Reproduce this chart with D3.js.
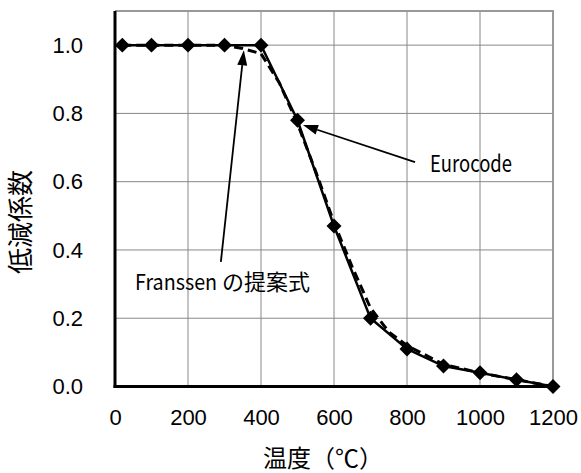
<!DOCTYPE html>
<html>
<head>
<meta charset="utf-8">
<script src="https://cdn.jsdelivr.net/npm/d3@7"></script>
<style>
  body { margin: 0; background: #fff; }
  svg { display: block; }
</style>
</head>
<body>
<div id="chart"></div>
<script>
// temperature (°C) and reduction factors
var euroTemp = [20, 100, 200, 300, 400, 500, 600, 700, 800, 900, 1000, 1100, 1200];
var euroVal  = [1.0, 1.0, 1.0, 1.0, 1.0, 0.78, 0.47, 0.20, 0.11, 0.06, 0.04, 0.02, 0.0];

var franTemp = [20, 100, 200, 300, 350, 400, 450, 500, 550, 600, 650, 700, 750, 800, 900, 1000, 1100, 1200];
var franVal  = [1.0, 1.0, 1.0, 1.0, 0.99, 0.975, 0.89, 0.77, 0.63, 0.48, 0.35, 0.23, 0.16, 0.12, 0.065, 0.04, 0.02, 0.0];

var xTicks = [0, 200, 400, 600, 800, 1000, 1200];
var yTicks = [0, 0.2, 0.4, 0.6, 0.8, 1.0];

var width = 581, height = 473;

var x = d3.scaleLinear().domain([0, 1200]).range([115, 553]);
var y = d3.scaleLinear().domain([0, 1.1]).range([386.5, 11]);

var svg = d3.select("#chart").append("svg")
  .attr("width", width)
  .attr("height", height);

// grid
svg.append("g")
  .selectAll("line")
  .data(xTicks.filter(d => d > 0 && d < 1200))
  .enter().append("line")
  .attr("x1", d => x(d)).attr("x2", d => x(d))
  .attr("y1", y(1.1)).attr("y2", y(0))
  .attr("stroke", "#888").attr("stroke-width", 1);

svg.append("g")
  .selectAll("line")
  .data(yTicks.filter(d => d > 0))
  .enter().append("line")
  .attr("x1", x(0)).attr("x2", x(1200))
  .attr("y1", d => y(d)).attr("y2", d => y(d))
  .attr("stroke", "#888").attr("stroke-width", 1);

// top & right border (grey)
svg.append("path")
  .attr("d", `M${x(0)},${y(1.1)}H${x(1200)}V${y(0)}`)
  .attr("fill", "none")
  .attr("stroke", "#999")
  .attr("stroke-width", 2);

// axes
var xAxis = g => g
  .attr("transform", `translate(0,${y(0)})`)
  .call(d3.axisBottom(x).tickValues(xTicks).tickFormat(d3.format("d")).tickSize(0).tickPadding(23))
  .call(g => g.select(".domain").attr("stroke", "#000").attr("stroke-width", 3)
    .attr("d", `M${x(0) - 1.5},0H${x(1200)}`))
  .call(g => g.selectAll("text")
    .attr("font-family", "'Liberation Sans', Arial, sans-serif")
    .attr("font-size", 22)
    .attr("fill", "#000"));

var yAxis = g => g
  .attr("transform", `translate(${x(0)},0)`)
  .call(d3.axisLeft(y).tickValues(yTicks).tickFormat(d3.format(".1f")).tickSize(0).tickPadding(32))
  .call(g => g.select(".domain").attr("stroke", "#000").attr("stroke-width", 3)
    .attr("d", `M0,${y(1.1)}V${y(0) + 1.5}`))
  .call(g => g.selectAll("text")
    .attr("font-family", "'Liberation Sans', Arial, sans-serif")
    .attr("font-size", 22)
    .attr("fill", "#000"));

svg.append("g").call(xAxis);
svg.append("g").call(yAxis);

// axis titles
svg.append("text")
  .attr("x", 323)
  .attr("y", 467)
  .attr("text-anchor", "middle")
  .attr("font-family", "'Noto Sans CJK JP', sans-serif")
  .attr("font-size", 24)
  .text("温度（℃）");

svg.append("text")
  .attr("transform", "translate(30,222) rotate(-90)")
  .attr("text-anchor", "middle")
  .attr("font-family", "'Noto Sans CJK JP', sans-serif")
  .attr("font-size", 26)
  .text("低減係数");

// Franssen proposal (dashed)
var line = d3.line().x(d => x(d[0])).y(d => y(d[1]));

svg.append("path")
  .datum(d3.zip(franTemp, franVal))
  .attr("d", line)
  .attr("fill", "none")
  .attr("stroke", "#000")
  .attr("stroke-width", 3)
  .attr("stroke-dasharray", "9,5");

// Eurocode (solid + diamonds)
var euro = d3.zip(euroTemp, euroVal);
svg.append("path")
  .datum(euro)
  .attr("d", line)
  .attr("fill", "none")
  .attr("stroke", "#000")
  .attr("stroke-width", 2.5);

svg.append("g")
  .selectAll("path")
  .data(euro)
  .enter().append("path")
  .attr("d", d3.symbol().type(d3.symbolSquare).size(112))
  .attr("transform", d => `translate(${x(d[0])},${y(d[1])}) rotate(45)`)
  .attr("fill", "#000");

// annotations
var arrows = [
  { from: [822, 0.657], to: [515, 0.766] },
  { from: [290, 0.365], to: [353, 0.985] }
];

arrows.forEach(function(a) {
  var x1 = x(a.from[0]), y1 = y(a.from[1]), x2 = x(a.to[0]), y2 = y(a.to[1]);
  var ang = Math.atan2(y2 - y1, x2 - x1);
  var len = 15, half = 5;
  var bx = x2 - len * Math.cos(ang), by = y2 - len * Math.sin(ang);
  svg.append("line")
    .attr("x1", x1).attr("y1", y1).attr("x2", bx).attr("y2", by)
    .attr("stroke", "#000").attr("stroke-width", 1.8);
  svg.append("path")
    .attr("d", `M${x2},${y2}L${bx + half * Math.sin(ang)},${by - half * Math.cos(ang)}L${bx - half * Math.sin(ang)},${by + half * Math.cos(ang)}Z`)
    .attr("fill", "#000");
});

svg.append("text")
  .attr("x", x(863))
  .attr("y", y(0.628))
  .attr("font-family", "'Noto Sans CJK JP', sans-serif")
  .attr("font-size", 23)
  .attr("textLength", 82)
  .attr("lengthAdjust", "spacingAndGlyphs")
  .text("Eurocode");

svg.append("text")
  .attr("x", x(55))
  .attr("y", y(0.283))
  .attr("font-family", "'Noto Sans CJK JP', sans-serif")
  .attr("font-size", 22)
  .attr("textLength", 82)
  .attr("lengthAdjust", "spacingAndGlyphs")
  .text("Franssen");

svg.append("text")
  .attr("x", 222)
  .attr("y", y(0.283))
  .attr("font-family", "'Noto Sans CJK JP', sans-serif")
  .attr("font-size", 22)
  .text("の提案式");
</script>
</body>
</html>
